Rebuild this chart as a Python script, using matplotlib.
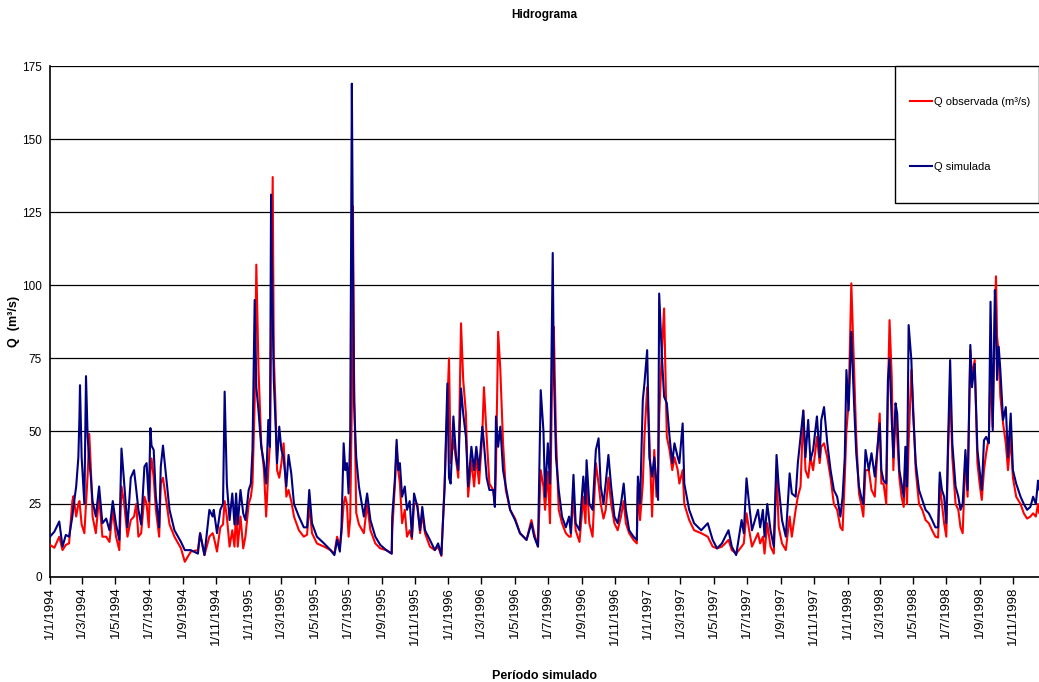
import numpy as np
import matplotlib
matplotlib.use('Agg')
import matplotlib.pyplot as plt
import matplotlib.dates as mdates
from matplotlib.patches import Rectangle
from matplotlib import font_manager

dias_a = [0, 8, 17, 23, 29, 35, 41, 43, 48, 52, 54, 55, 58, 63, 66, 69, 72, 75, 78, 84,
          90, 96, 103, 109, 115, 121, 127, 131, 136, 142, 148, 154, 158, 162, 167, 173, 177,
          181, 184, 186, 190, 194, 200, 203, 207, 213, 219, 228, 240, 247, 258, 271, 275, 283,
          292, 298]
obs_a = [11, 10, 13.8, 9.2, 11, 11.5, 26, 27.7, 20.7, 25, 26, 24, 18, 15, 25, 35, 49, 36.6,
         20.7, 15, 27.5, 13.8, 13.8, 12, 23, 13.8, 9.2, 31, 25, 13.8, 19.5, 20.7, 25, 13.8, 15,
         27.5, 25, 17, 36.6, 40.6, 34, 23, 13.8, 32, 34, 26, 18, 13.8, 9.8, 5.2, 8.7, 9.2, 15,
         7.5, 13.8, 15]
sim_a = [13.8, 15.5, 19, 10.4, 14.4, 13.8, 20.7, 24, 31, 41, 55, 65.7, 41, 25, 68.8, 48, 40,
         34, 26, 20.7, 31, 18.4, 20, 16, 26, 18, 12.7, 44, 32, 17, 34, 36.6, 30, 23, 18, 37.8,
         39, 26, 51, 45, 43.5, 27.5, 17, 37.8, 45, 34, 23, 16, 12, 9.2, 9.2, 8, 15, 7.5, 23,
         20.7]

dias_b = [300, 306, 312, 317, 320, 324, 329, 334, 338, 341, 344, 349, 354, 358, 364, 368, 371,
          375, 378, 382, 387, 392, 396, 400, 403, 405, 408, 410, 413, 416, 420, 424, 428, 433,
          437, 442, 447, 456, 465, 471, 475, 480, 489, 502, 514, 521, 526, 531, 534, 538, 541,
          544, 547, 550, 553, 555, 557, 561, 566, 575, 581, 587, 596, 605]
obs_b = [13.8, 8.7, 17, 18, 26, 20.7, 10.4, 16, 10.4, 23, 10.4, 20.7, 9.8, 13.8, 25, 27.5, 32,
         60, 107, 71, 45.8, 36.6, 20.7, 36.6, 45.8, 80, 137, 76, 59.5, 36.6, 34, 39, 45.8, 27.5,
         29.8, 26, 20.7, 16, 13.8, 14.5, 25, 15, 11.5, 10.4, 9.2, 8, 13.8, 10.4, 15, 25, 27.5,
         25, 13.8, 20, 60, 127, 70, 22, 18, 15, 25, 16, 11.5, 9.8]
sim_b = [23, 15, 23, 25, 63.5, 32, 19.5, 28.6, 18, 28.6, 18, 29.8, 21.8, 19.5, 29.8, 32, 43.5,
         94.9, 65, 57, 44.6, 39, 32, 53.8, 44.6, 131, 90, 67.5, 53.8, 39, 51.5, 43.5, 41, 31,
         41.8, 35.5, 25, 20.7, 17, 17, 29.8, 18.4, 13.8, 11.5, 9.2, 7.5, 12.7, 8.7, 17, 45.8,
         36.6, 39, 28.6, 48, 169, 110, 60, 41, 31, 20.7, 28.6, 19.5, 13.8, 11]

dias_c = [616, 626, 627, 632, 635, 638, 641, 645, 650, 654, 659, 663, 667, 673, 678, 682, 687,
          696, 705, 711, 717, 723, 728, 731, 734, 739, 744, 748, 753, 757, 762, 766, 772, 777,
          781, 786, 792, 795, 800, 805, 812, 815, 817, 821, 825, 830, 835, 843, 852, 861, 873,
          882, 887, 894, 899, 904, 907]
obs_c = [9.2, 8, 16, 32, 44.6, 36.6, 32, 18.4, 23, 13.8, 16, 13, 25, 25, 15, 21.8, 15, 10.4,
         9.2, 10.4, 7.2, 32, 59.5, 74.9, 39, 47, 40, 34, 86.9, 67.5, 56, 27.5, 40, 31, 41, 32,
         49, 65, 48, 32, 29.8, 25, 36.6, 84, 71, 45.8, 29.8, 23, 20, 15, 12.7, 19.5, 15, 10.4,
         36.6, 31, 23]
sim_c = [9.2, 8, 20.7, 34, 47, 36.6, 39, 27.5, 31, 23, 26, 13.8, 28.6, 24, 16, 24, 16, 12.7,
         9.2, 11.5, 7.5, 31, 66.3, 34, 32, 55, 41, 36.6, 64.6, 56, 48, 31, 44.6, 36.6, 44.6,
         36.6, 51.5, 45.8, 34, 29.8, 29.8, 24, 55, 44.6, 51.5, 36.6, 31, 23, 19.5, 15, 12.7,
         18.4, 13.8, 10.4, 64, 50, 27.5]

dias_d = [912, 916, 921, 923, 927, 932, 938, 945, 951, 954, 959, 963, 970, 977, 981, 983, 988,
          994, 1000, 1005, 1009, 1014, 1018, 1023, 1028, 1034, 1040, 1046, 1051, 1055, 1061,
          1069, 1075, 1077, 1081, 1086, 1089, 1094, 1098, 1103, 1107, 1111, 1114, 1116, 1121,
          1125, 1130, 1135, 1140, 1144, 1150, 1153, 1159, 1162, 1171, 1180, 1193, 1205, 1214]
obs_d = [36, 18.4, 82, 85.7, 48, 23, 18.4, 15, 13.8, 13.8, 27.5, 16, 12, 27.5, 18.4, 34, 18.4,
         13.8, 39, 32, 25, 20, 23, 34, 25, 18.4, 16, 20.7, 26, 18.4, 15, 12.7, 11.5, 31, 19.5,
         32, 48, 65, 48, 20.7, 43.5, 27.5, 36, 55, 77.7, 92, 48, 43.5, 36.6, 41, 36.6, 32,
         36.6, 25, 19.5, 16, 15, 13.8, 10.4]
sim_d = [45.8, 32, 111, 71, 41, 29.8, 20.7, 17, 20.7, 15, 35, 18.4, 16, 34.4, 25, 40, 25, 23,
         43.5, 47.5, 31, 25, 32, 41.8, 31, 20.7, 18.4, 25, 32, 23, 16, 13.8, 12.7, 34.4, 25,
         60.6, 66.3, 77.7, 41, 34.4, 41, 32, 26.4, 97.1, 75.5, 61.8, 59.5, 48, 39, 45.8, 41,
         39, 52.6, 32, 23, 18.4, 16, 18.4, 12.7]

dias_e = [1222, 1231, 1237, 1243, 1249, 1257, 1267, 1271, 1276, 1280, 1286, 1297, 1301, 1306,
          1309, 1314, 1320, 1326, 1331, 1335, 1341, 1348, 1355, 1359, 1366, 1370, 1375, 1380,
          1384, 1389, 1393, 1398, 1405, 1410, 1413, 1418, 1424, 1430, 1436, 1442, 1448, 1452,
          1456, 1459, 1463, 1468, 1473, 1477, 1482, 1486, 1490, 1494, 1500, 1505]
obs_e = [9.8, 10.4, 11.5, 12.7, 9.2, 8, 10.4, 11.5, 21.8, 17, 10.4, 15, 11.5, 13.8, 8, 18.4,
         10.4, 8, 36.6, 17, 11.5, 9.2, 20.7, 13.8, 23, 27.5, 31, 57, 36.6, 34, 41, 36.6, 48, 39,
         44.6, 45.8, 41, 34, 25, 23, 17, 16, 34, 50, 59.5, 100.6, 71, 48, 28.6, 25, 20.7, 36.6,
         36.6, 29.8]
sim_e = [9.8, 11.5, 13.8, 16, 10.4, 7.5, 19.5, 15, 33.8, 26.4, 16, 23, 17, 23, 13.8, 25, 16,
         10.4, 41.8, 31, 19.5, 13.8, 35.5, 28.6, 27.5, 39, 48, 57, 41, 53.8, 40, 43.5, 55, 41,
         53.8, 58.2, 45.8, 36.6, 29.8, 27.5, 20.7, 27.5, 41, 70.9, 57, 84, 59.5, 42.4, 31, 27.5,
         25, 43.5, 36.6, 42.4]

dias_f = [1511, 1515, 1520, 1523, 1527, 1532, 1535, 1538, 1542, 1545, 1549, 1552, 1556, 1560,
          1564, 1567, 1570, 1573, 1578, 1581, 1586, 1592, 1598, 1604, 1610, 1616, 1622, 1627,
          1630, 1634, 1638, 1642, 1645, 1649, 1653, 1659, 1664, 1668, 1672, 1677, 1681, 1686,
          1689, 1694, 1699, 1703, 1707, 1711, 1715, 1720, 1723, 1727, 1731, 1733, 1735, 1738,
          1741, 1746, 1751, 1755, 1760, 1764, 1770, 1778, 1784, 1790, 1796, 1801, 1806, 1810,
          1812]
obs_f = [27.5, 41, 56, 32, 32, 25, 61.8, 88, 68.6, 36.6, 57, 48, 34, 27.5, 24, 41, 25, 45.8,
         71, 59.5, 36.6, 25, 23, 19.5, 18.4, 16, 13.8, 13.5, 32, 25, 18.4, 13.8, 41, 65, 41, 25,
         23, 17, 15, 41, 27.5, 77.7, 68.6, 74.3, 39, 32, 26.4, 36.6, 42.4, 48, 71, 51.5, 90,
         103, 82.3, 76.6, 61.8, 52.6, 45.8, 36.6, 48, 34, 27.5, 25, 21.8, 20, 20.7, 21.8, 20.7,
         25, 22]
sim_f = [34.4, 42.4, 52.6, 36.6, 33, 32, 67.5, 74.9, 53.8, 41, 59.5, 56, 36.6, 32, 27.5, 44.6,
         31, 86.3, 74.3, 57, 39, 29.8, 26.4, 23, 21.8, 19.5, 17, 17, 35.8, 29.8, 27.5, 18.4,
         44.6, 74.3, 45.8, 31, 27.5, 23, 25, 43.5, 29.8, 79.5, 65, 73, 43.5, 36.6, 29.8, 46.8,
         48, 45.8, 94.3, 50.3, 98.3, 85, 67.5, 78.9, 70.9, 53.8, 58.2, 41, 56, 36.6, 32, 27.5,
         25, 23, 24, 27.5, 25, 33, 30]

dias = dias_a + dias_b + dias_c + dias_d + dias_e + dias_f
q_obs = obs_a + obs_b + obs_c + obs_d + obs_e + obs_f
q_sim = sim_a + sim_b + sim_c + sim_d + sim_e + sim_f

inicio = np.datetime64('1994-01-01')
fechas = inicio + np.array(dias).astype('timedelta64[D]')

nombres = {f.name for f in font_manager.fontManager.ttflist}
fuente = 'Liberation Sans Narrow' if 'Liberation Sans Narrow' in nombres else 'Liberation Sans'
plt.rcParams['font.family'] = [fuente, 'DejaVu Sans']

fig = plt.figure(figsize=(10.39, 6.82), dpi=100)
ax = fig.add_axes([0.0481, 0.154, 0.952, 0.749])

ax.plot(fechas, q_obs, color='#ff0000', lw=1.5, label='Q observada (m³/s)', zorder=3)
ax.plot(fechas, q_sim, color='#000080', lw=1.5, label='Q simulada', zorder=4)

ax.set_ylim(0, 175)
ax.set_yticks(np.arange(0, 176, 25))
ax.set_xlim(inicio, inicio + np.timedelta64(1812, 'D'))
ax.xaxis.set_major_locator(mdates.MonthLocator(bymonth=[1, 3, 5, 7, 9, 11]))
ax.xaxis.set_major_formatter(plt.FuncFormatter(
    lambda v, p: '{0}/{1}/{2}'.format(mdates.num2date(v).day, mdates.num2date(v).month,
                                      mdates.num2date(v).year)))
plt.setp(ax.get_xticklabels(), rotation=90)
ax.tick_params(axis='x', length=5, width=1, labelsize=9.5, pad=2)
ax.tick_params(axis='y', length=0, labelsize=8.5, pad=6)
ax.grid(axis='y', color='black', lw=0.9)
ax.set_axisbelow(True)
for s in ['top', 'right']:
    ax.spines[s].set_visible(False)
ax.spines['left'].set_linewidth(1.2)
ax.spines['bottom'].set_linewidth(1.2)

ax.set_title('Hidrograma', fontsize=8.5, fontweight='bold', pad=35)
ax.set_ylabel('Q  (m³/s)', fontsize=9, fontweight='bold', labelpad=1)
ax.set_xlabel('Período simulado', fontsize=9, fontweight='bold', labelpad=18)

# caja de la leyenda
ax.add_patch(Rectangle((0.854, 0.732), 0.146, 0.268, transform=ax.transAxes,
                       facecolor='white', edgecolor='black', lw=1, zorder=5, clip_on=False))
ax.legend(loc='upper left', bbox_to_anchor=(0.859, 0.96), frameon=False, fontsize=8,
          handlelength=2.0, handletextpad=0.15, labelspacing=4.95).set_zorder(6)

fig.savefig('out.png', dpi=100)
